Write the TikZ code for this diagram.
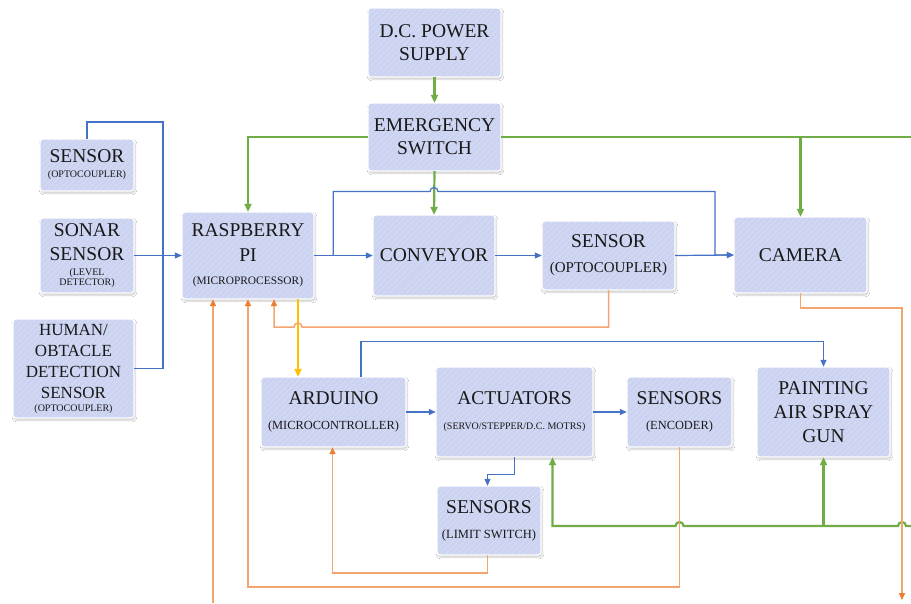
\documentclass[tikz,border=0pt]{standalone}
\usepackage{fontspec}
\setmainfont{Liberation Serif}
\usetikzlibrary{arrows.meta,patterns.meta,shadows.blur,calc}
\definecolor{boxfill}{HTML}{CBD3F1}
\definecolor{stripe}{HTML}{D6DCF5}
\definecolor{bl}{HTML}{4472C4}
\definecolor{gr}{HTML}{70AD47}
\definecolor{orl}{HTML}{F4A46E}
\definecolor{ora}{HTML}{ED7D31}
\definecolor{ye}{HTML}{FFC000}
\newcommand{\fs}[2]{{\fontsize{#1}{#1}\selectfont #2}}
\begin{document}
\begin{tikzpicture}[x=1pt,y=-1pt,
  box/.style={rounded corners=3pt, fill=boxfill,
    blur shadow={shadow xshift=1pt, shadow yshift=-2pt, shadow blur steps=6, shadow opacity=22},
    postaction={pattern={Lines[angle=45,distance=4pt,line width=1pt]}, pattern color=stripe},
    postaction={draw=white,line width=1.2pt},
    align=center, inner sep=0pt, text=black!90,
    font=\fontsize{19.5}{24}\selectfont},
  bline/.style={draw=bl, line width=1.2pt},
  gline/.style={draw=gr, line width=2.2pt},
  oline/.style={draw=orl, line width=1.5pt},
  yline/.style={draw=ye, line width=2.4pt},
  btip/.style={-{Triangle[length=7pt,width=6pt,color=bl]}},
  gtip/.style={-{Triangle[length=8pt,width=7pt,color=gr]}},
  otip/.style={-{Triangle[length=7pt,width=6pt,color=ora]}},
  ytip/.style={-{Triangle[length=8pt,width=7pt,color=ye]}},
]
\useasboundingbox (0,0) rectangle (911,603);
\fill[white] (0,0) rectangle (911,603);

% boxes
\node[box,minimum width=133pt,minimum height=69pt] (dc) at (434.5,42.5) {D.C. POWER\\[-1pt]SUPPLY};
\node[box,minimum width=133pt,minimum height=68pt] (es) at (434.5,137) {EMERGENCY\\[-1pt]SWITCH};
\node[box,minimum width=94pt,minimum height=52pt] (s1) at (87,165) {SENSOR\\[-9pt]\fs{10}{(OPTOCOUPLER)}};
\node[box,minimum width=94pt,minimum height=75pt] (sonar) at (87,255.5) {SONAR\\SENSOR\\[-9pt]\fs{10}{(LEVEL}\\[-14pt]\fs{10}{DETECTOR)}};
\node[box,minimum width=121pt,minimum height=99pt,font=\fontsize{17}{21}\selectfont] (human) at (73.5,368.5) {HUMAN/\\OBTACLE\\DETECTION\\SENSOR\\[-8pt]\fs{10}{(OPTOCOUPLER)}};
\node[box,minimum width=132pt,minimum height=87pt] (rpi) at (248,255.5) {RASPBERRY\\[1pt]PI\\[-1pt]\fs{11.4}{(MICROPROCESSOR)}};
\node[box,minimum width=122pt,minimum height=81pt] (conv) at (434,255.5) {CONVEYOR};
\node[box,minimum width=133pt,minimum height=69pt] (s2) at (608.5,255.5) {SENSOR\\[1pt]\fs{15}{(OPTOCOUPLER)}};
\node[box,minimum width=133pt,minimum height=76pt] (cam) at (800.5,255) {CAMERA};
\node[box,minimum width=145pt,minimum height=70pt] (ard) at (333.5,412) {ARDUINO\\[1pt]\fs{12.4}{(MICROCONTROLLER)}};
\node[box,minimum width=157pt,minimum height=90pt] (act) at (514.5,412) {ACTUATORS\\[1pt]\fs{10}{(SERVO/STEPPER/D.C. MOTRS)}};
\node[box,minimum width=104pt,minimum height=69pt] (lim) at (489,520.5) {SENSORS\\[1pt]\fs{12.5}{(LIMIT SWITCH)}};
\node[box,minimum width=105pt,minimum height=70pt] (enc) at (679.5,412) {SENSORS\\[1pt]\fs{12.4}{(ENCODER)}};
\node[box,minimum width=133pt,minimum height=90pt] (gun) at (823.5,412) {PAINTING\\AIR SPRAY\\GUN};

% free ends
\coordinate (bj) at (163,122);
\coordinate (gR) at (911,137);
\coordinate (gB) at (911,526);
\coordinate (oE) at (902,600);
\coordinate (oB) at (213,603);

% green power lines
\draw[gline,gtip] (dc) -- (es);
\draw[gline,gtip] (es.west) -| (rpi.north);
\draw[gline,gtip] (es.south) -- (conv.north);
\draw[gline] (es.east) -- (gR);
\draw[gline,gtip] (cam.north |- es.east) -- (cam.north);
\draw[gline,gtip] (gB) -- (906,526) arc[start angle=0,end angle=180,radius=4pt]
  -- (683.5,526) arc[start angle=0,end angle=180,radius=4pt]
  -- ([xshift=38pt]act.south |- gB) -- ([xshift=38pt]act.south);
\draw[gline,gtip] (gun.south |- gB) -- (gun.south);

% blue signal lines
\draw[bline] (s1.north) |- (bj) |- (human.east);
\draw[bline,btip] (sonar.east) -- (rpi.west);
\draw[bline,btip] (rpi.east) -- (conv.west);
\draw[bline,btip] ([xshift=19pt]rpi.east) -- ++(0,-64) -- (430,191.5)
  arc[start angle=180,end angle=0,radius=4pt] -- (715,191.5) |- (cam.west);
\draw[bline,btip] (conv.east) -- (s2.west);
\draw[bline,btip] (s2.east) -- (cam.west);
\draw[bline,btip] (ard.east) -- (act.west);
\draw[bline,btip] ([xshift=27.5pt]ard.north) -- ++(0,-35) -| (gun.north);
\draw[bline,btip] (act.east) -- (enc.west);
\draw[bline,btip] (act.south) -- ++(0,17) -| ([xshift=-1.5pt]lim.north);

% yellow
\draw[yline,ytip] ([xshift=50pt]rpi.south) -- ([xshift=50pt]rpi.south |- ard.north);

% orange feedback lines
\draw[oline,otip] (s2.south) -- ++(0,37) -- (302,327)
  arc[start angle=0,end angle=180,radius=4pt] -- ([xshift=26pt]rpi.south |- 0,327) -- ([xshift=26pt]rpi.south);
\draw[oline,otip] (cam.south) -- ++(0,15) -| (oE);
\draw[oline,otip] (oB) -- ([xshift=-35pt]rpi.south);
\draw[oline,otip] (enc.south) -- ++(0,140) -| (rpi.south);
\draw[oline,otip] ([xshift=-1.5pt]lim.south) -- ++(0,18) -| ([xshift=-1pt]ard.south);
\end{tikzpicture}
\end{document}
